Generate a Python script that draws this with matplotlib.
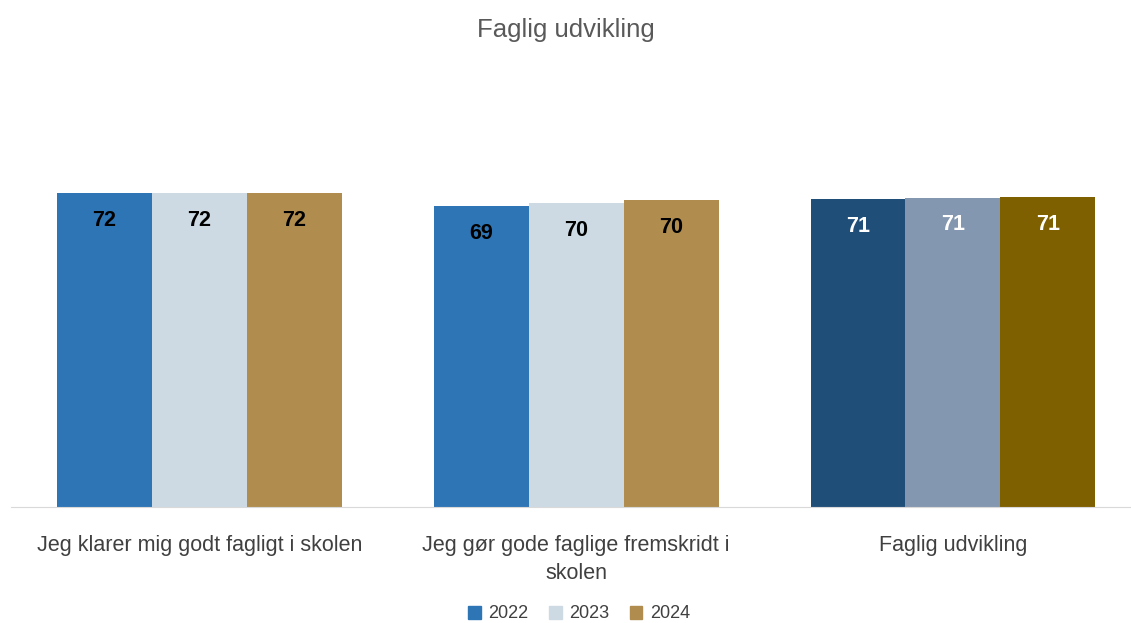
import matplotlib.pyplot as plt
import numpy as np
from matplotlib.patches import Patch

plt.rcParams['font.family'] = ['Liberation Sans', 'DejaVu Sans']

categories = ["Jeg klarer mig godt fagligt i skolen",
              "Jeg gør gode faglige fremskridt i\nskolen",
              "Faglig udvikling"]
years = ["2022", "2023", "2024"]
values_2022 = [72.0, 69.0, 70.6]
values_2023 = [72.0, 69.7, 70.9]
values_2024 = [72.0, 70.4, 71.1]
labels_2022 = ["72", "69", "71"]
labels_2023 = ["72", "70", "71"]
labels_2024 = ["72", "70", "71"]

light_colors = ["#2E75B6", "#CDDAE4", "#B08D4F"]
dark_colors = ["#1F4E79", "#8497B0", "#7F6000"]

fig = plt.figure(figsize=(11.31, 6.23), dpi=100)
ax = fig.add_axes([11 / 1131, 116 / 623, 1119 / 1131, 436 / 623])

x = np.arange(len(categories))
w = 0.252
series = [values_2022, values_2023, values_2024]
texts = [labels_2022, labels_2023, labels_2024]
for i, (vals, labs) in enumerate(zip(series, texts)):
    for j, (v, lab) in enumerate(zip(vals, labs)):
        # the summary group uses darker shades with white labels
        dark = j == 2
        col = dark_colors[i] if dark else light_colors[i]
        xpos = x[j] + (i - 1) * w
        ax.bar(xpos, v, width=w, color=col)
        ax.text(xpos, v - 6.2, lab, ha="center", va="center", fontsize=15.5,
                fontweight="bold", color="white" if dark else "black")

ax.set_xlim(-0.5, 2.47)
ax.set_ylim(0, 100)
ax.set_yticks([])
ax.set_xticks(x)
ax.set_xticklabels(categories, fontsize=15.5, color="#404040", linespacing=1.45)
ax.tick_params(axis="x", length=0, pad=20)
for s in ["top", "right", "left"]:
    ax.spines[s].set_visible(False)
ax.spines["bottom"].set_color("#D9D9D9")

fig.text(0.5, 1 - 30 / 623, "Faglig udvikling", ha="center", va="center",
         fontsize=18.5, color="#595959")

handles = [Patch(color=c) for c in light_colors]
fig.legend(handles, years, loc="center", bbox_to_anchor=(0.512, 1 - 614 / 623),
           ncol=3, frameon=False, fontsize=13, handlelength=0.7, handleheight=0.7,
           columnspacing=1.15, handletextpad=0.4, labelcolor="#404040")

fig.savefig("out.png", dpi=100)
